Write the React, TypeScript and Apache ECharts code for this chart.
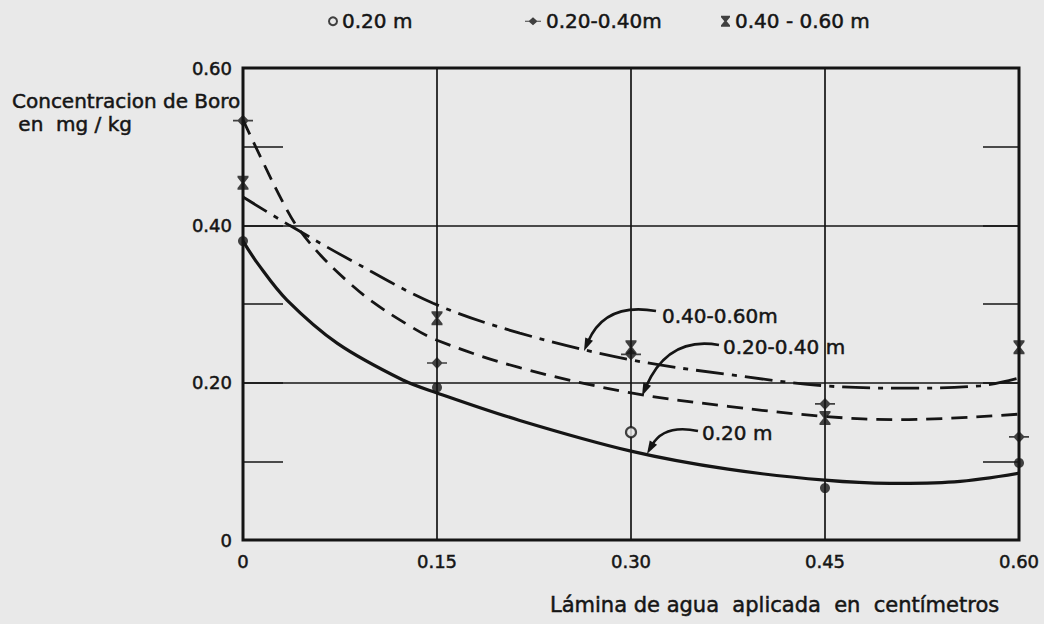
import React, { useEffect, useRef } from "react";
import * as echarts from "echarts";

// ---- data ----
const xMeasured = [0, 0.15, 0.3, 0.45, 0.6];
const obs020 = [0.38, 0.194, 0.137, 0.066, 0.098];
const obs2040 = [0.533, 0.225, 0.236, 0.173, 0.131];
const obs4060 = [0.454, 0.282, 0.245, 0.155, 0.245];

const curve020X = [0, 0.012, 0.034, 0.073, 0.124, 0.15, 0.214, 0.3, 0.375, 0.45, 0.5, 0.55, 0.6];
const curve020Y = [0.38, 0.35, 0.305, 0.25, 0.203, 0.187, 0.152, 0.113, 0.09, 0.076, 0.072, 0.074, 0.085];

const curve2040X = [0, 0.015, 0.03, 0.042, 0.06, 0.08, 0.1, 0.125, 0.15, 0.214, 0.3, 0.375, 0.45, 0.508, 0.6];
const curve2040Y = [0.534, 0.482, 0.432, 0.398, 0.362, 0.33, 0.303, 0.276, 0.254, 0.219, 0.187, 0.17, 0.157, 0.153, 0.16];

const curve4060X = [0, 0.036, 0.083, 0.147, 0.214, 0.3, 0.377, 0.45, 0.508, 0.57, 0.6];
const curve4060Y = [0.436, 0.4, 0.356, 0.301, 0.263, 0.229, 0.21, 0.196, 0.193, 0.196, 0.206];

const xTickLabels = ["0", "0.15", "0.30", "0.45", "0.60"];
const yTickLabels = ["0", "0.20", "0.40", "0.60"];

const legendNames = ["0.20 m", "0.20-0.40m", "0.40 - 0.60 m"];
const annotationLabels = ["0.40-0.60m", "0.20-0.40 m", "0.20 m"];
const xTitle = "Lámina de agua  aplicada  en  centímetros";
const yTitle = "Concentracion de Boro\n en  mg / kg";

const OPEN_POINT_020 = 2;

const INK = "#151515";
const BG = "#e9e9e9";
const FONT = "'DejaVu Sans', 'Noto Sans', sans-serif";

const diamondBar = "path://M-4,4.3 L1,4.3 L6,0 L11,4.3 L16,4.3 L16,5.7 L11,5.7 L6,10 L1,5.7 L-4,5.7 Z";
const hourglass = "path://M0,0 L10,0 L10,1.5 L6.3,6 L10,10.5 L10,12 L0,12 L0,10.5 L3.7,6 L0,1.5 Z";

function arrow(x1: number, y1: number, cx: number, cy: number, x2: number, y2: number) {
  const dx = x2 - cx;
  const dy = y2 - cy;
  const len = Math.sqrt(dx * dx + dy * dy);
  const ux = dx / len;
  const uy = dy / len;
  const hl = 13;
  const hw = 4.2;
  const bx = x2 - ux * hl;
  const by = y2 - uy * hl;
  return [
    {
      type: "bezierCurve",
      shape: { x1, y1, x2: bx + ux * 3, y2: by + uy * 3, cpx1: cx, cpy1: cy },
      style: { stroke: INK, lineWidth: 2.6, fill: "none" },
      z: 10,
    },
    {
      type: "polygon",
      shape: {
        points: [
          [x2, y2],
          [bx - uy * hw, by + ux * hw],
          [bx + uy * hw, by - ux * hw],
        ],
      },
      style: { fill: INK },
      z: 10,
    },
  ];
}

export default function App() {
  const ref = useRef<HTMLDivElement>(null);

  useEffect(() => {
    if (!ref.current) return;
    const chart = echarts.init(ref.current, undefined, { renderer: "svg" });

    const zip = (xs: number[], ys: number[]) => xs.map((x, i) => [x, ys[i]]);

    const pts020 = xMeasured.map((x, i) =>
      i === OPEN_POINT_020
        ? { value: [x, obs020[i]], itemStyle: { color: BG, borderColor: INK, borderWidth: 2.2 } }
        : { value: [x, obs020[i]] }
    );

    const heavy = { textBorderColor: INK, textBorderWidth: 0.5 };
    const textBase = { fill: INK, fontFamily: FONT, fontWeight: 400, stroke: INK, lineWidth: 0.5 };
    const legendText = { color: INK, fontSize: 20, fontFamily: FONT, ...heavy };

    const option: any = {
      animation: false,
      backgroundColor: BG,
      grid: {
        left: 243,
        right: 25,
        top: 68,
        bottom: 84,
        show: true,
        borderColor: INK,
        borderWidth: 3,
        backgroundColor: "transparent",
      },
      legend: [
        {
          data: [{ name: legendNames[0], icon: "circle", itemStyle: { color: BG, borderColor: INK, borderWidth: 2 } }],
          left: 323,
          top: 6,
          itemWidth: 8,
          itemHeight: 8,
          textStyle: legendText,
        },
        {
          data: [{ name: legendNames[1], icon: diamondBar }],
          left: 520,
          top: 6,
          itemWidth: 16,
          itemHeight: 9,
          textStyle: legendText,
        },
        {
          data: [{ name: legendNames[2], icon: hourglass }],
          left: 716,
          top: 6,
          itemWidth: 9,
          itemHeight: 12,
          textStyle: legendText,
        },
      ],
      xAxis: {
        type: "value",
        min: 0,
        max: 0.6,
        interval: 0.15,
        axisLine: { show: false },
        axisTick: { show: false },
        axisLabel: {
          margin: 12,
          color: INK,
          fontSize: 18,
          fontFamily: FONT,
          ...heavy,
          formatter: (v: number) => xTickLabels[Math.round(v / 0.15)] ?? "",
        },
        splitLine: { show: true, lineStyle: { color: INK, width: 1.7 } },
      },
      yAxis: [
        {
          type: "value",
          min: 0,
          max: 0.6,
          interval: 0.2,
          axisLine: { show: false },
          axisTick: { show: false },
          axisLabel: {
            margin: 11,
            color: INK,
            fontSize: 18,
            fontFamily: FONT,
            ...heavy,
            formatter: (v: number) => yTickLabels[Math.round(v / 0.2)] ?? "",
          },
          splitLine: { show: true, lineStyle: { color: INK, width: 1.7 } },
        },
        {
          type: "value",
          min: 0,
          max: 0.6,
          interval: 0.1,
          position: "left",
          axisLine: { show: false },
          axisTick: { show: true, inside: true, length: 40, lineStyle: { color: INK, width: 1.7 } },
          axisLabel: { show: false },
          splitLine: { show: false },
        },
        {
          type: "value",
          min: 0,
          max: 0.6,
          interval: 0.1,
          position: "right",
          axisLine: { show: false },
          axisTick: { show: true, inside: true, length: 36, lineStyle: { color: INK, width: 1.7 } },
          axisLabel: { show: false },
          splitLine: { show: false },
        },
      ],
      series: [
        {
          name: "curve020",
          type: "line",
          smooth: 0.35,
          showSymbol: false,
          data: zip(curve020X, curve020Y),
          lineStyle: { color: INK, width: 3.2 },
          z: 3,
        },
        {
          name: "curve2040",
          type: "line",
          smooth: 0.35,
          showSymbol: false,
          data: zip(curve2040X, curve2040Y),
          lineStyle: { color: INK, width: 2.8, type: [16, 9] },
          z: 3,
        },
        {
          name: "curve4060",
          type: "line",
          smooth: 0.35,
          showSymbol: false,
          data: zip(curve4060X, curve4060Y),
          lineStyle: { color: INK, width: 2.8, type: [28, 8, 5, 8] },
          z: 3,
        },
        {
          name: legendNames[0],
          type: "scatter",
          symbol: "circle",
          symbolSize: 10,
          itemStyle: { color: INK },
          data: pts020,
          z: 5,
        },
        {
          name: legendNames[1],
          type: "scatter",
          symbol: diamondBar,
          symbolSize: [20, 12],
          itemStyle: { color: INK },
          data: zip(xMeasured, obs2040),
          z: 5,
        },
        {
          name: legendNames[2],
          type: "scatter",
          symbol: hourglass,
          symbolSize: [11, 14],
          itemStyle: { color: INK },
          data: zip(xMeasured, obs4060),
          z: 5,
        },
      ],
      graphic: [
        {
          type: "text",
          x: 12,
          y: 89,
          style: { ...textBase, text: yTitle, fontSize: 20, lineHeight: 23, verticalAlign: "top" },
        },
        { type: "text", x: 550, y: 605, style: { ...textBase, text: xTitle, fontSize: 21, verticalAlign: "middle" } },
        { type: "text", x: 662, y: 316, style: { ...textBase, text: annotationLabels[0], fontSize: 20, verticalAlign: "middle" } },
        { type: "text", x: 723, y: 347, style: { ...textBase, text: annotationLabels[1], fontSize: 20, verticalAlign: "middle" } },
        { type: "text", x: 702, y: 433, style: { ...textBase, text: annotationLabels[2], fontSize: 20, verticalAlign: "middle" } },
        ...arrow(656, 311, 605, 302, 584, 351),
        ...arrow(719, 345, 668, 336, 642, 396),
        ...arrow(698, 431, 664, 424, 647, 454),
      ],
    };

    chart.setOption(option);
    return () => chart.dispose();
  }, []);

  return (
    <div
      ref={ref}
      style={{ position: "fixed", left: 0, top: 0, width: 1044, height: 624, background: BG }}
    />
  );
}
